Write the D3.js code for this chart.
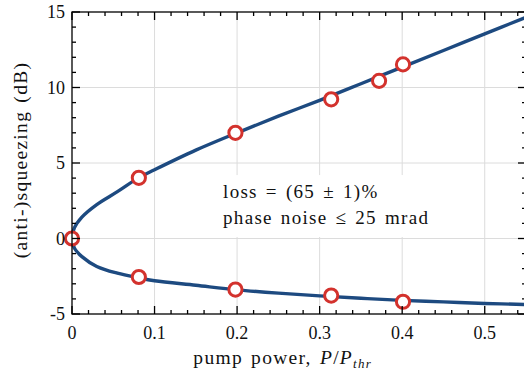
<!DOCTYPE html>
<html>
<head>
<meta charset="utf-8">
<script src="https://cdn.jsdelivr.net/npm/d3@7"></script>
<style>
  body { margin: 0; background: #fff; }
  text { font-family: 'Liberation Serif', 'DejaVu Serif', serif; fill: #111; }
  .wide { letter-spacing: 1.3px; word-spacing: 2px; }
</style>
</head>
<body>
<div id="chart"></div>
<script>
// theory curves (pump power, dB)
const curve_x = [0, 0.003, 0.012, 0.03, 0.055, 0.08, 0.1, 0.15, 0.2, 0.25, 0.3, 0.35, 0.4, 0.45, 0.5, 0.55]
const anti_curve = [0, 0.72, 1.42, 2.25, 3.1, 4.0, 4.55, 5.85, 7.0, 8.1, 9.15, 10.25, 11.35, 12.45, 13.55, 14.65]
const sqz_curve = [0, -0.65, -1.2, -1.85, -2.3, -2.6, -2.8, -3.1, -3.4, -3.62, -3.8, -3.96, -4.1, -4.2, -4.3, -4.37]

// measured points
const meas_x = [0, 0.081, 0.198, 0.314, 0.372, 0.401]
const meas_anti = [0, 4.02, 7.0, 9.22, 10.44, 11.53]
const meas_sqz = [null, -2.55, -3.38, -3.78, null, -4.19]

const x_ticks = [0, 0.1, 0.2, 0.3, 0.4, 0.5]
const x_labels = ['0', '0.1', '0.2', '0.3', '0.4', '0.5']
const y_ticks = [-5, 0, 5, 10, 15]
const y_labels = ['-5', '0', '5', '10', '15']

const note_lines = ['loss = (65 ± 1)%', 'phase noise ≤ 25 mrad']

const width = 524
const height = 378
const margin = {top: 12, right: -2, bottom: 64, left: 72}
const inner_w = width - margin.left - margin.right
const inner_h = height - margin.top - margin.bottom

const line_color = '#1d4a80'
const mark_color = '#d3322d'

let svg = d3.select('#chart')
  .append('svg')
  .attr('width', width)
  .attr('height', height)
  .append('g')
  .attr('transform', `translate(${margin.left},${margin.top})`)

let xs = d3.scaleLinear().domain([0, 0.55]).range([0, inner_w])
let ys = d3.scaleLinear().domain([-5, 15]).range([inner_h, 0])

let minor_x = d3.range(0, 0.551, 0.02).map(v => +v.toFixed(2)).filter(v => !x_ticks.includes(v))
let minor_y = d3.range(-5, 15.01, 1).filter(v => !y_ticks.includes(v))

// grid
let grid = svg.append('g').attr('class', 'grid')
grid.selectAll('.gx').data(x_ticks.slice(1))
  .enter().append('line')
  .attr('x1', d => xs(d)).attr('x2', d => xs(d))
  .attr('y1', 0).attr('y2', inner_h)
grid.selectAll('.gy').data(y_ticks.slice(1, -1))
  .enter().append('line')
  .attr('x1', 0).attr('x2', inner_w)
  .attr('y1', d => ys(d)).attr('y2', d => ys(d))
grid.selectAll('line')
  .attr('stroke', '#dcdcdc')
  .attr('stroke-width', 1)

// white box behind the note, hides the vertical grid lines
svg.append('rect')
  .attr('x', xs(0.17))
  .attr('y', ys(4.2))
  .attr('width', xs(0.5) - xs(0.17) - 16)
  .attr('height', ys(0.1) - ys(4.2))
  .attr('fill', '#fff')

// curves: one path from upper right, through origin, to lower right
let path_pts = []
for (let i = curve_x.length - 1; i >= 0; i--) path_pts.push([curve_x[i], anti_curve[i]])
for (let i = 1; i < curve_x.length; i++) path_pts.push([curve_x[i], sqz_curve[i]])

let line = d3.line()
  .x(d => xs(d[0]))
  .y(d => ys(d[1]))
  .curve(d3.curveCatmullRom.alpha(0.5))

svg.append('path')
  .datum(path_pts)
  .attr('d', line)
  .attr('fill', 'none')
  .attr('stroke', line_color)
  .attr('stroke-width', 3.4)
  .attr('stroke-linejoin', 'round')

// measured markers
let pts = []
meas_x.forEach((x, i) => {
  if (meas_anti[i] !== null) pts.push([x, meas_anti[i]])
  if (meas_sqz[i] !== null) pts.push([x, meas_sqz[i]])
})
svg.selectAll('.mark').data(pts)
  .enter().append('circle')
  .attr('cx', d => xs(d[0]))
  .attr('cy', d => ys(d[1]))
  .attr('r', 6.6)
  .attr('fill', '#fff')
  .attr('stroke', mark_color)
  .attr('stroke-width', 3)

// frame
svg.append('rect')
  .attr('x', 0).attr('y', 0)
  .attr('width', inner_w).attr('height', inner_h)
  .attr('fill', 'none')
  .attr('stroke', '#000')
  .attr('stroke-width', 1.3)

// inward ticks on all four sides
let ticks = svg.append('g').attr('stroke', '#000').attr('stroke-width', 1.3)
function xTicks (vals, len) {
  vals.forEach(v => {
    ticks.append('line').attr('x1', xs(v)).attr('x2', xs(v)).attr('y1', inner_h).attr('y2', inner_h - len)
    ticks.append('line').attr('x1', xs(v)).attr('x2', xs(v)).attr('y1', 0).attr('y2', len)
  })
}
function yTicks (vals, len) {
  vals.forEach(v => {
    ticks.append('line').attr('x1', 0).attr('x2', len).attr('y1', ys(v)).attr('y2', ys(v))
    ticks.append('line').attr('x1', inner_w).attr('x2', inner_w - len).attr('y1', ys(v)).attr('y2', ys(v))
  })
}
xTicks(x_ticks, 8)
xTicks(minor_x, 4)
yTicks(y_ticks, 8)
yTicks(minor_y, 4)

// tick labels
svg.selectAll('.xl').data(x_ticks)
  .enter().append('text')
  .attr('x', d => xs(d))
  .attr('y', inner_h + 25)
  .attr('text-anchor', 'middle')
  .style('font-size', '18px')
  .text((d, i) => x_labels[i])

svg.selectAll('.yl').data(y_ticks)
  .enter().append('text')
  .attr('x', -7)
  .attr('y', d => ys(d) + 6)
  .attr('text-anchor', 'end')
  .style('font-size', '18px')
  .text((d, i) => y_labels[i])

// axis labels
let xlab = svg.append('text')
  .attr('class', 'wide')
  .attr('x', xs(0.147))
  .attr('y', inner_h + 50)
  .style('font-size', '19.5px')
xlab.append('tspan').text('pump power, ')
xlab.append('tspan').style('font-style', 'italic').text('P')
xlab.append('tspan').text('/')
xlab.append('tspan').style('font-style', 'italic').text('P')
xlab.append('tspan').style('font-style', 'italic').style('font-size', '13px').attr('dy', 4).text('thr')

svg.append('text')
  .attr('class', 'wide')
  .attr('transform', `translate(${-45},${inner_h / 2 - 3}) rotate(-90)`)
  .attr('text-anchor', 'middle')
  .style('font-size', '19.5px')
  .text('(anti-)squeezing (dB)')

// note
svg.selectAll('.note').data(note_lines)
  .enter().append('text')
  .attr('class', 'wide')
  .attr('x', xs(0.183))
  .attr('y', (d, i) => 186 + i * 26)
  .style('font-size', '19px')
  .text(d => d)
</script>
</body>
</html>
